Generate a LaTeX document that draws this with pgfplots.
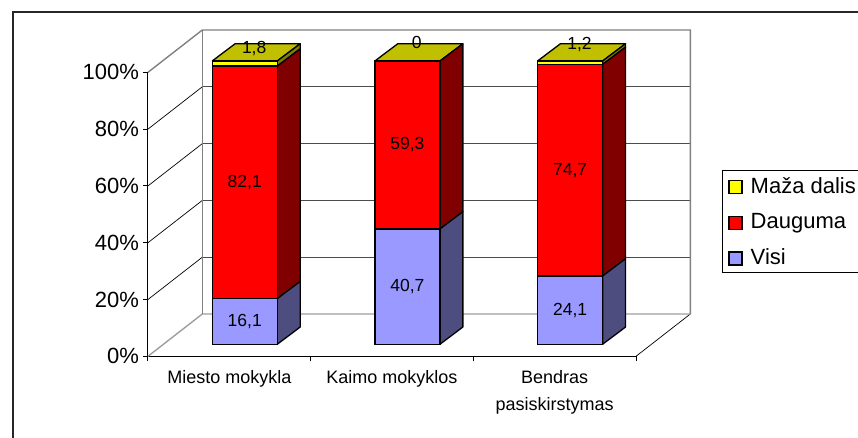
\documentclass[border=0pt]{standalone}
\usepackage{pgfplots}
\pgfplotsset{compat=1.18}
\usepackage{fontspec}
\setmainfont{Liberation Sans}
\definecolor{vblue}{HTML}{9999FF}
\definecolor{vblued}{HTML}{4D4D80}
\definecolor{vred}{HTML}{FF0000}
\definecolor{vredd}{HTML}{800000}
\definecolor{vyel}{HTML}{FFFF00}
\definecolor{vyeld}{HTML}{808000}
\definecolor{vyelt}{HTML}{C0C000}
\pgfplotsset{
  wallg/.style={draw=black!50,line width=1.4pt,forget plot},
  floorg/.style={draw=black!38,line width=1.4pt,forget plot},
  gridl/.style={draw=black!70,line width=1pt,forget plot},
  diag/.style={draw=black,line width=0.7pt,forget plot},
  face/.style={stack plots=false,sharp plot,mark=none,draw=black,line width=1.3pt,line join=round,fill=#1,forget plot},
}
\begin{document}
\begin{tikzpicture}
\clip (-148pt,-81.7pt) rectangle (710pt,356.3pt);
\draw[black!85,line width=1.4pt] (-135pt,344.3pt) rectangle (900pt,-200pt);
% walls and axes: the box of this axis is the front plane of the 3-D chart
\begin{axis}[
  at={(0pt,0pt)},anchor=south west,
  scale only axis,width=488pt,height=284pt,
  clip=false,
  xmin=-0.5,xmax=2.5,ymin=0,ymax=100,
  axis x line=bottom,axis y line=left,
  axis line style={-,black,line width=1pt},
  tick align=outside,major tick length=5pt,
  every tick/.style={black,line width=1pt},
  xtick={-0.5,0.5,1.5,2.5},xticklabels={},
  extra x ticks={0,1,2},
  extra x tick labels={Miesto mokykla,Kaimo mokyklos,{Bendras\\pasiskirstymas}},
  extra x tick style={major tick length=0pt,
    tick label style={font=\fontsize{18}{27}\selectfont,align=center,yshift=-11pt}},
  ytick={0,20,40,60,80,100},
  yticklabel={\pgfmathprintnumber{\tick}\%},
  /pgf/number format/assume math mode=true,
  y tick label style={font=\fontsize{22}{25}\selectfont,xshift=-0.5pt},
]
\addplot[gridl] coordinates {(-0.166,34.9)(2.834,34.9)};
\addplot[gridl] coordinates {(-0.166,54.9)(2.834,54.9)};
\addplot[gridl] coordinates {(-0.166,74.9)(2.834,74.9)};
\addplot[gridl] coordinates {(-0.166,94.9)(2.834,94.9)};
\addplot[diag] coordinates {(-0.5,20)(-0.166,34.9)};
\addplot[diag] coordinates {(-0.5,40)(-0.166,54.9)};
\addplot[diag] coordinates {(-0.5,60)(-0.166,74.9)};
\addplot[diag] coordinates {(-0.5,80)(-0.166,94.9)};
\addplot[diag] coordinates {(2.5,0)(2.834,14.9)};
\addplot[floorg] coordinates {(-0.5,0)(-0.166,14.9)(2.834,14.9)};
\addplot[wallg] coordinates {(-0.5,100)(-0.166,114.9)(2.834,114.9)(2.834,14.9)};
\addplot[wallg] coordinates {(-0.166,14.9)(-0.166,114.9)};
\end{axis}
% bars
\begin{axis}[
  at={(15.4pt,12pt)},anchor=south west,
  scale only axis,width=488pt,height=283.3pt,
  clip=false,hide axis,
  xmin=-0.5,xmax=2.5,ymin=0,ymax=100,
  ybar stacked,bar width=65pt,
  legend style={at={(1.1447,0.6167)},anchor=north west,draw=black,line width=0.9pt,
    font=\fontsize{22}{25}\selectfont,row sep=14.5pt,inner xsep=6pt,inner ysep=5pt,
    cells={anchor=west}},
  reverse legend,
  legend image code/.code={\draw[#1,draw=black,line width=1.2pt] (8pt,-8pt) rectangle (21pt,5pt);\path (27pt,0pt);},
]
\addplot[fill=vblue,draw=black,line width=1.3pt] coordinates {(0,16.1)(1,40.7)(2,24.1)};
\addlegendentry{\rule[-18pt]{0pt}{18pt}Visi}
\addplot[fill=vred,draw=black,line width=1.3pt] coordinates {(0,82.1)(1,59.3)(2,74.7)};
\addlegendentry{Dauguma}
\addplot[fill=vyel,draw=black,line width=1.3pt] coordinates {(0,1.8)(1,0)(2,1.2)};
\addlegendentry{\makebox[140pt][l]{Maža dalis}}
% side faces and tops
\addplot[face=vblued] coordinates {(0.2,0)(0.341,6.1)(0.341,22.2)(0.2,16.1)(0.2,0)};
\addplot[face=vredd] coordinates {(0.2,16.1)(0.341,22.2)(0.341,104.3)(0.2,98.2)(0.2,16.1)};
\addplot[face=vyeld] coordinates {(0.2,98.2)(0.341,104.3)(0.341,106.1)(0.2,100)(0.2,98.2)};
\addplot[face=vyelt] coordinates {(-0.2,100)(0.2,100)(0.341,106.1)(-0.059,106.1)(-0.2,100)};
\addplot[face=vblued] coordinates {(1.2,0)(1.341,6.1)(1.341,46.8)(1.2,40.7)(1.2,0)};
\addplot[face=vredd] coordinates {(1.2,40.7)(1.341,46.8)(1.341,106.1)(1.2,100)(1.2,40.7)};
\addplot[face=vyelt] coordinates {(0.8,100)(1.2,100)(1.341,106.1)(0.941,106.1)(0.8,100)};
\addplot[face=vblued] coordinates {(2.2,0)(2.341,6.1)(2.341,30.2)(2.2,24.1)(2.2,0)};
\addplot[face=vredd] coordinates {(2.2,24.1)(2.341,30.2)(2.341,104.9)(2.2,98.8)(2.2,24.1)};
\addplot[face=vyeld] coordinates {(2.2,98.8)(2.341,104.9)(2.341,106.1)(2.2,100)(2.2,98.8)};
\addplot[face=vyelt] coordinates {(1.8,100)(2.2,100)(2.341,106.1)(1.941,106.1)(1.8,100)};
\end{axis}
% value labels
\begin{axis}[
  at={(15.4pt,12pt)},anchor=south west,
  scale only axis,width=488pt,height=283.3pt,
  clip=false,hide axis,
  xmin=-0.5,xmax=2.5,ymin=0,ymax=100,
]
\addplot[draw=none,mark=none,forget plot,
  point meta=explicit symbolic,
  nodes near coords,
  every node near coord/.append style={anchor=center,inner sep=0pt,black,
    font=\fontsize{17.5}{20}\selectfont},
] table[x=x,y=y,meta=l] {
x y l
0 8.05 16,1
0 57.15 82,1
0.058 104.5 1,8
1 20.35 40,7
1 70.35 59,3
1.058 106.4 0
2 12.05 24,1
2 61.4 74,7
2.058 105.9 1,2
};
\end{axis}
\end{tikzpicture}
\end{document}
